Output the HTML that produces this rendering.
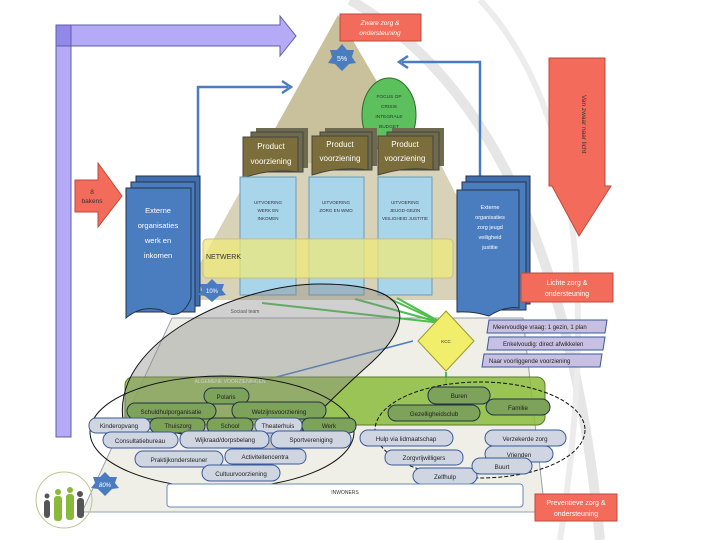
<!DOCTYPE html>
<html><head><meta charset="utf-8"><style>
html,body{margin:0;padding:0;background:#fff;width:720px;height:540px;overflow:hidden}
svg{display:block;font-family:"Liberation Sans",sans-serif}
</style></head><body>
<svg width="720" height="540" viewBox="0 0 720 540" xmlns="http://www.w3.org/2000/svg">
<path d="M350 0 Q560 120 600 540" fill="none" stroke="#e6e6e6" stroke-width="10"/>
<path d="M480 0 Q620 150 560 540" fill="none" stroke="#ececec" stroke-width="6"/>
<rect x="56" y="25" width="15" height="412" fill="#b4aaf5" stroke="#5d5fa8"/>
<polygon points="56,25 280,25 280,16 296,36 280,56 280,46 56,46" fill="#b4aaf5" stroke="#5d5fa8"/>
<rect x="56" y="25" width="15" height="21" fill="#9288e8" stroke="#5d5fa8"/>
<polygon points="338,15 505,300 180,300" fill="#c9c19b"/>
<polygon points="256,163 440,163 510,300 180,300" fill="#d7d2b8"/>
<polygon points="172,318 523,318 545,512 82,512" fill="#efeee7" stroke="#9aa0b0"/>
<rect x="340" y="14" width="81" height="27" fill="#f26b5b" stroke="#c04a3a"/>
<text x="380" y="25" font-size="6.5" fill="#fff" text-anchor="middle" font-style="italic">Zware zorg &amp;</text>
<text x="380" y="35" font-size="6.5" fill="#fff" text-anchor="middle" font-style="italic">ondersteuning</text>
<polygon points="342,44 347,50 354,50 352,57 356,63 349,64 342,71 335,64 328,63 332,57 330,50 337,50" fill="#4a7cc0"/>
<text x="342" y="61" font-size="7" fill="#fff" text-anchor="middle">5%</text>
<polyline points="198,176 198,87 288,87" fill="none" stroke="#4a7cc0" stroke-width="2.5"/>
<polyline points="282,81 291,87 282,93" fill="none" stroke="#4a7cc0" stroke-width="2.5"/>
<polyline points="480,176 480,62 402,62" fill="none" stroke="#4a7cc0" stroke-width="2.5"/>
<polyline points="408,56 399,62 408,68" fill="none" stroke="#4a7cc0" stroke-width="2.5"/>
<ellipse cx="389" cy="115" rx="27" ry="37" fill="#5cc05c" stroke="#2a6a2a"/>
<g font-size="4.8" text-anchor="middle" fill="#333"><text x="389" y="98">FOCUS OP</text><text x="389" y="108">CRISIS</text><text x="389" y="118">INTEGRALE</text><text x="389" y="128">BUDGET</text></g>
<g font-size="8" fill="#fff" text-anchor="middle">
<rect x="256" y="128" width="52" height="40" fill="#6e6a4e"/>
<rect x="251" y="132" width="52" height="40" fill="#6e6a4e" stroke="#444"/>
<path d="M243 137 h55 v35 q-27 -4 -55 6z" fill="#7b6e3a" stroke="#444"/>
<text x="271" y="149">Product</text><text x="271" y="164">voorziening</text>
<rect x="325" y="128" width="52" height="38" fill="#6e6a4e"/><rect x="320" y="132" width="52" height="38" fill="#6e6a4e" stroke="#444"/>
<path d="M312 136 h56 v34 q-28 -4 -56 5z" fill="#7b6e3a" stroke="#444"/>
<text x="340" y="147">Product</text><text x="340" y="161">voorziening</text>
<rect x="392" y="128" width="52" height="38" fill="#6e6a4e"/><rect x="387" y="132" width="52" height="38" fill="#6e6a4e" stroke="#444"/>
<path d="M378 136 h55 v34 q-27 -4 -55 5z" fill="#7b6e3a" stroke="#444"/>
<text x="405" y="147">Product</text><text x="405" y="161">voorziening</text>
</g>
<g fill="#a9d5ea" stroke="#6a9ab8">
<rect x="240" y="177" width="56" height="118"/>
<rect x="309" y="177" width="55" height="118"/>
<rect x="378" y="177" width="54" height="118"/>
</g>
<g font-size="4.5" fill="#334" text-anchor="middle">
<text x="268" y="204">UITVOERING</text><text x="268" y="212">WERK EN</text><text x="268" y="220">INKOMEN</text>
<text x="336" y="204">UITVOERING</text><text x="336" y="212">ZORG EN WMO</text>
<text x="405" y="204">UITVOERING</text><text x="405" y="212">JEUGD-GEZIN</text><text x="405" y="220">VEILIGHEID JUSTITIE</text>
</g>
<rect x="203" y="239" width="250" height="39" rx="4" fill="#efe87a" fill-opacity="0.75" stroke="#c8c080"/>
<text x="206" y="259" font-size="7" fill="#333">NETWERK</text>
<rect x="136" y="176" width="64" height="130" fill="#3f6fb0" stroke="#234"/>
<rect x="131" y="182" width="64" height="130" fill="#4a7cc0" stroke="#234"/>
<path d="M126 188 h65 v110 q-10 25 -30 12 q-20 -5 -35 8z" fill="#4a7cc0" stroke="#234"/>
<g font-size="7.5" fill="#fff" text-anchor="middle"><text x="158" y="213">Externe</text><text x="158" y="228">organisaties</text><text x="158" y="243">werk en</text><text x="158" y="258">inkomen</text></g>
<polygon points="75,180 98,180 98,163 122,196 98,227 98,212 75,212" fill="#f26b5b" stroke="#c04a3a"/>
<text x="92" y="194" font-size="6.5" fill="#333" text-anchor="middle">8</text>
<text x="92" y="203" font-size="6.5" fill="#333" text-anchor="middle">bakens</text>
<rect x="466" y="176" width="64" height="128" fill="#3f6fb0" stroke="#234"/>
<rect x="462" y="182" width="64" height="128" fill="#4a7cc0" stroke="#234"/>
<path d="M457 190 h62 v118 q-15 -2 -30 8 q-15 -5 -32 -4z" fill="#4a7cc0" stroke="#234"/>
<g font-size="5.5" fill="#fff" text-anchor="middle"><text x="490" y="209">Externe</text><text x="490" y="219">organisaties</text><text x="490" y="229">zorg jeugd</text><text x="490" y="239">veiligheid</text><text x="490" y="249">justitie</text></g>
<polygon points="549,58 605,58 605,186 611,186 579,236 552,186 549,186" fill="#f26b5b" stroke="#c04a3a"/>
<text transform="translate(582,95) rotate(90)" font-size="6.5" fill="#333">Van zwaar naar licht</text>
<polygon points="212,279 217,284 224,284 222,290 226,295 219,296 212,302 205,296 198,295 202,290 200,284 207,284" fill="#4a7cc0"/>
<text x="212" y="293" font-size="6" fill="#fff" text-anchor="middle">10%</text>
<rect x="521" y="273" width="92" height="29" fill="#f26b5b" stroke="#c04a3a"/>
<text x="567" y="285" font-size="7" fill="#fff" text-anchor="middle">Lichte zorg &amp;</text>
<text x="567" y="296" font-size="7" fill="#fff" text-anchor="middle">ondersteuning</text>
<text x="245" y="313" font-size="5" fill="#333" text-anchor="middle">Sociaal team</text>
<g font-size="6" fill="#222">
<polygon points="489,320 607,320 605,333 487,333" fill="#c8c0e2" stroke="#3a5a9a"/><text x="493" y="329">Meervoudige vraag: 1 gezin, 1 plan</text>
<polygon points="489,337 605,337 603,350 487,350" fill="#c8c0e2" stroke="#3a5a9a"/><text x="503" y="346">Enkelvoudig: direct afwikkelen</text>
<polygon points="484,354 602,354 600,367 482,367" fill="#c8c0e2" stroke="#3a5a9a"/><text x="489" y="363">Naar voorliggende voorziening</text>
</g>
<g stroke="#4cbf4c" stroke-width="2" fill="none">
<line x1="442" y1="323" x2="262" y2="303"/><line x1="442" y1="323" x2="355" y2="299"/><line x1="442" y1="323" x2="390" y2="299"/><line x1="442" y1="323" x2="397" y2="298"/>
<line x1="446" y1="372" x2="446" y2="385"/>
</g>
<line x1="250" y1="384" x2="413" y2="341" stroke="#4a7cc0" stroke-width="1.5"/>
<polygon points="446,311 474,341 446,371 418,341" fill="#f0ee6a" stroke="#9a9a30"/>
<text x="446" y="343" font-size="4.5" text-anchor="middle" fill="#333">KCC</text>
<rect x="125" y="377" width="420" height="48" rx="8" fill="#8cbc3c" fill-opacity="0.85" stroke="#5a7a2a"/>
<text x="230" y="383" font-size="5" fill="#fff" text-anchor="middle">ALGEMENE VOORZIENINGEN</text>
<path d="M123,420 C112,340 240,284 320,284 C420,284 412,325 372,362 C335,395 300,430 282,455 C230,445 170,432 123,420 Z" fill="#8a8a8a" fill-opacity="0.4" stroke="#111"/>
<ellipse cx="222" cy="432" rx="132" ry="56" fill="none" stroke="#111"/>
<ellipse cx="480" cy="430" rx="105" ry="48" fill="none" stroke="#111" stroke-dasharray="4,2"/>
<g font-size="6.2" fill="#222" text-anchor="middle" stroke-width="1">
<g fill="#7da25a" stroke="#234"><rect x="204" y="388" width="45" height="16" rx="8"/><rect x="428" y="387" width="62" height="17" rx="8"/><rect x="388" y="405" width="92" height="16" rx="8"/><rect x="486" y="399" width="64" height="16" rx="8"/>
<rect x="127" y="403" width="89" height="16" rx="8"/><rect x="232" y="402" width="94" height="17" rx="8"/><rect x="150" y="418" width="55" height="15" rx="7"/><rect x="207" y="418" width="46" height="15" rx="7"/><rect x="302" y="418" width="54" height="15" rx="7"/></g>
<g fill="#cfd6e2" stroke="#3a5a9a"><rect x="89" y="418" width="61" height="15" rx="7"/><rect x="255" y="418" width="47" height="15" rx="7"/>
<rect x="103" y="432" width="75" height="16" rx="8"/><rect x="180" y="431" width="89" height="17" rx="8"/><rect x="271" y="431" width="80" height="17" rx="8"/>
<rect x="360" y="430" width="93" height="16" rx="8"/><rect x="485" y="430" width="81" height="16" rx="8"/>
<rect x="385" y="450" width="78" height="15" rx="7"/><rect x="485" y="446" width="68" height="16" rx="8"/>
<rect x="413" y="468" width="64" height="16" rx="8"/><rect x="472" y="458" width="60" height="16" rx="8"/>
<rect x="135" y="451" width="88" height="16" rx="8"/><rect x="225" y="449" width="81" height="15" rx="7"/><rect x="202" y="465" width="78" height="16" rx="8"/></g>
<text x="226" y="399">Polaris</text><text x="459" y="398">Buren</text><text x="434" y="416">Gezelligheidsclub</text><text x="518" y="410">Familie</text>
<text x="171" y="414">Schuldhulporganisatie</text><text x="279" y="414">Welzijnsvoorziening</text><text x="178" y="428">Thuiszorg</text><text x="230" y="428">School</text><text x="329" y="428">Werk</text>
<text x="119" y="428">Kinderopvang</text><text x="278" y="428">Theaterhuis</text>
<text x="140" y="443">Consultatiebureau</text><text x="225" y="442">Wijkraad/dorpsbelang</text><text x="311" y="442">Sportvereniging</text>
<text x="406" y="441">Hulp via lidmaatschap</text><text x="525" y="441">Verzekerde zorg</text>
<text x="424" y="460">Zorgvrijwilligers</text><text x="519" y="457">Vrienden</text><text x="445" y="479">Zelfhulp</text><text x="502" y="469">Buurt</text>
<text x="179" y="462">Praktijkondersteuner</text><text x="265" y="459">Activiteitencentra</text><text x="241" y="476">Cultuurvoorziening</text>
</g>
<polygon points="105,472 110,477 117,477 115,483 119,488 112,489 105,496 98,489 91,488 95,483 93,477 100,477" fill="#4a7cc0"/>
<text x="105" y="487" font-size="6" fill="#fff" text-anchor="middle" font-style="italic">80%</text>
<rect x="167" y="484" width="356" height="23" rx="3" fill="#fff" stroke="#6a8ab8"/>
<text x="345" y="494" font-size="5" fill="#333" text-anchor="middle">INWONERS</text>
<rect x="535" y="494" width="82" height="27" fill="#f26b5b" stroke="#c04a3a"/>
<text x="576" y="505" font-size="7" fill="#fff" text-anchor="middle">Preventieve zorg &amp;</text>
<text x="576" y="516" font-size="7" fill="#fff" text-anchor="middle">ondersteuning</text>
<circle cx="64" cy="500" r="28" fill="none" stroke="#b8c890"/>
<g fill="#8ab83a"><circle cx="58" cy="492" r="3"/><rect x="54" y="496" width="8" height="25" rx="3"/><circle cx="70" cy="490" r="3"/><rect x="66" y="494" width="8" height="26" rx="3"/></g>
<g fill="#555"><circle cx="80" cy="494" r="3"/><rect x="77" y="498" width="7" height="20" rx="3"/><circle cx="47" cy="496" r="2.5"/><rect x="44" y="500" width="6" height="18" rx="3"/></g>
</svg>
</body></html>
